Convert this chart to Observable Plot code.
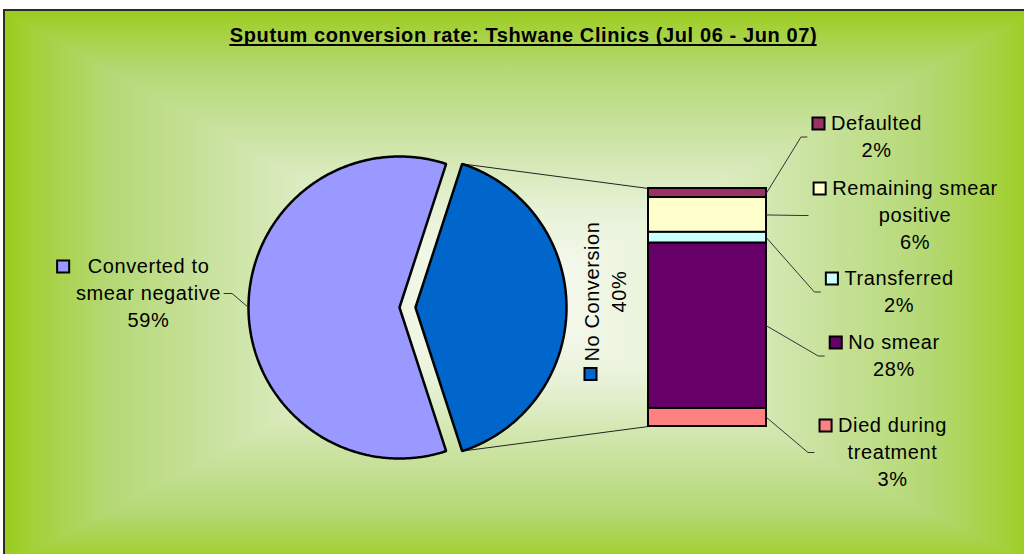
<!DOCTYPE html>
<html><head><meta charset="utf-8">
<script src="https://cdn.jsdelivr.net/npm/d3@7"></script>
<script src="https://cdn.jsdelivr.net/npm/@observablehq/plot@0.6"></script>
<style>
html,body{margin:0;padding:0;background:#fff;width:1024px;height:554px;overflow:hidden;}
#wrap{position:relative;width:1024px;height:554px;overflow:hidden;}
#bg{position:absolute;left:3px;top:9px;width:1030px;height:555px;
 border-left:2px solid #2b2b2b;border-top:2px solid #2b2b2b;
 background-image:
  linear-gradient(to right,#9bcc1c 0%,#a6d13f 3.4%,#b4d873 9.8%,#cde4a6 22%,#e8f2d8 34%,#fbfdf7 49%,#e8f2d8 64%,#cde4a6 77%,#b4d873 89.8%,#a6d13f 96.4%,#9bcc1c 100%),
  linear-gradient(to bottom,#9bcc1c 0%,#a6d13f 3.6%,#b4d873 10.4%,#cde4a6 23.4%,#e8f2d8 36.4%,#fbfdf7 52%,#e8f2d8 66.4%,#cde4a6 78.4%,#b4d873 90.4%,#a6d13f 96.6%,#9bcc1c 100%);
 background-blend-mode:darken;}
#chart{position:absolute;left:0;top:0;}
</style></head>
<body><div id="wrap"><div id="bg"></div><div id="chart"></div></div>
<script>
// ---- data ----
const title = "Sputum conversion rate: Tshwane Clinics (Jul 06 - Jun 07)";
const pieCategories = ["Converted to smear negative", "No Conversion"];
const pieValues = [59.4, 39.6];
const pieLabels = ["59%", "40%"];
const pieColors = ["#9999FF", "#0066CC"];
const barCategories = ["Defaulted", "Remaining smear positive", "Transferred", "No smear", "Died during treatment"];
const barValues = [1.5, 5.8, 1.8, 27.5, 3.0];
const barLabels = ["2%", "6%", "2%", "28%", "3%"];
const barColors = ["#993366", "#FFFFCC", "#CCFFFF", "#660066", "#FF8080"];
const barLabelLines = [["Defaulted"], ["Remaining smear", "positive"], ["Transferred"], ["No smear"], ["Died during", "treatment"]];
const convLabelLines = ["Converted to", "smear negative"];

// ---- layout ----
const W = 1024, H = 554;
const pieC = {x: 399, y: 307}, R = 151, explode = 16;
const bar = {x1: 648, x2: 766, y1: 188, y2: 426};
const FS = 20, LS = 0.6, LH = 27;
const FONT = "'Liberation Sans', Arial, sans-serif";
const barLabelPos = [{cx: 876, y0: 123}, {cx: 914.5, y0: 188}, {cx: 898.5, y0: 278}, {cx: 893.5, y0: 342}, {cx: 892, y0: 425}];
const convPos = {cx: 148, y0: 266, gap: 18};
const noConvPos = {cx: 603.5, cy: 291};
const titlePos = {x: 523, y: 35};

const ctx = document.createElement("canvas").getContext("2d");
function tw(s, bold) { ctx.font = (bold ? "bold " : "") + FS + "px " + FONT; return ctx.measureText(s).width + LS * s.length; }

// ---- pie geometry ----
const pieTotal = d3.sum(pieValues);
const half = Math.PI * pieValues[1] / pieTotal;
function arcPts(name, cx, cy, t0, t1) {
  const n = Math.ceil((t1 - t0) / 0.01);
  const pts = [{name, x: cx, y: cy}];
  for (let i = 0; i <= n; i++) { const t = t0 + (t1 - t0) * i / n; pts.push({name, x: cx + R * Math.cos(t), y: cy - R * Math.sin(t)}); }
  return pts;
}
const convPts = arcPts(pieCategories[0], pieC.x, pieC.y, half, 2 * Math.PI - half);
const bx = pieC.x + explode;
const noConvPts = arcPts(pieCategories[1], bx, pieC.y, -half, half);

// ---- bar geometry ----
const barTotal = d3.sum(barValues);
const by = d3.scaleLinear([0, barTotal], [bar.y1, bar.y2]);
let acc = 0;
const barRows = barValues.map((v, i) => { const r = {name: barCategories[i], v, color: barColors[i], a: acc, b: acc + v}; acc += v; return r; });

// connectors
const links = [
  {x1: bx + R * Math.cos(half), y1: pieC.y - R * Math.sin(half), x2: bar.x1, y2: bar.y1},
  {x1: bx + R * Math.cos(half), y1: pieC.y + R * Math.sin(half), x2: bar.x1, y2: bar.y2}
];

// ---- labels ----
const textRows = [], squares = [], leaders = [];
barRows.forEach((d, i) => {
  const p = barLabelPos[i];
  const lines = [...barLabelLines[i], barLabels[i]];
  lines.forEach((t, j) => textRows.push({t, x: p.cx, y: p.y0 + j * LH}));
  const sq = p.cx - tw(lines[0]) / 2 - 6 - 6.5;
  squares.push({x: sq, y: p.y0, color: d.color});
  const endX = sq - 6.5 - 5, cy = p.y0 + (lines.length - 1) * LH / 2;
  const sy = by((d.a + d.b) / 2);
  leaders.push({k: i, x: bar.x2, y: sy}, {k: i, x: endX - 6, y: cy}, {k: i, x: endX, y: cy});
});
{
  const lines = [...convLabelLines, pieLabels[0]];
  lines.forEach((t, j) => textRows.push({t, x: convPos.cx, y: convPos.y0 + j * LH}));
  const sq = convPos.cx - tw(lines[0]) / 2 - convPos.gap - 6.5;
  squares.push({x: sq, y: convPos.y0, color: pieColors[0]});
  const sx = convPos.cx + tw(lines[1]) / 2 + 3, sy = convPos.y0 + LH;
  leaders.push({k: "c", x: sx, y: sy}, {k: "c", x: sx + 8, y: sy}, {k: "c", x: pieC.x - R, y: pieC.y});
}
const ncW = tw(pieCategories[1]);
squares.push({x: noConvPos.cx - LH / 2, y: noConvPos.cy + ncW / 2 + 6 + 6.5, color: pieColors[1]});
const titleW = tw(title, true);

const plot = Plot.plot({
  width: W, height: H,
  marginTop: 0, marginRight: 0, marginBottom: 0, marginLeft: 0,
  x: {domain: [0, W], range: [0, W], axis: null},
  y: {domain: [0, H], range: [0, H], axis: null},
  color: {type: "identity"},
  style: `background:transparent;font-family:${FONT};letter-spacing:${LS}px;`,
  marks: [
    Plot.link(links, {x1: "x1", y1: "y1", x2: "x2", y2: "y2", stroke: "#222", strokeWidth: 1}),
    Plot.line(convPts, {x: "x", y: "y", fill: pieColors[0], stroke: "#000", strokeWidth: 2.5, strokeLinejoin: "miter", curve: "linear-closed"}),
    Plot.line(noConvPts, {x: "x", y: "y", fill: pieColors[1], stroke: "#000", strokeWidth: 2.5, strokeLinejoin: "miter", curve: "linear-closed"}),
    Plot.rect(barRows, {x1: () => bar.x1, x2: () => bar.x2, y1: d => by(d.a), y2: d => by(d.b), fill: "color", stroke: "#000", strokeWidth: 2}),
    Plot.line(leaders, {x: "x", y: "y", z: "k", stroke: "#333", strokeWidth: 1}),
    Plot.text(textRows, {x: "x", y: "y", text: "t", fontSize: FS, fontFamily: FONT, fill: "#000"}),
    Plot.text([pieCategories[1] + "\n" + pieLabels[1]], {x: noConvPos.cx, y: noConvPos.cy, text: d => d, rotate: -90, lineHeight: LH / FS, fontSize: FS, fontFamily: FONT, fill: "#000"}),
    Plot.dot(squares, {x: "x", y: "y", symbol: "square", r: 6.8, fill: "color", stroke: "#000", strokeWidth: 2}),
    Plot.text([title], {x: titlePos.x, y: titlePos.y, text: d => d, fontSize: FS, fontWeight: "bold", fontFamily: FONT, fill: "#000"}),
    Plot.ruleY([titlePos.y + 9.5], {x1: titlePos.x - titleW / 2, x2: titlePos.x + titleW / 2, stroke: "#000", strokeWidth: 2})
  ]
});
document.getElementById("chart").appendChild(plot);
</script>
</body></html>
